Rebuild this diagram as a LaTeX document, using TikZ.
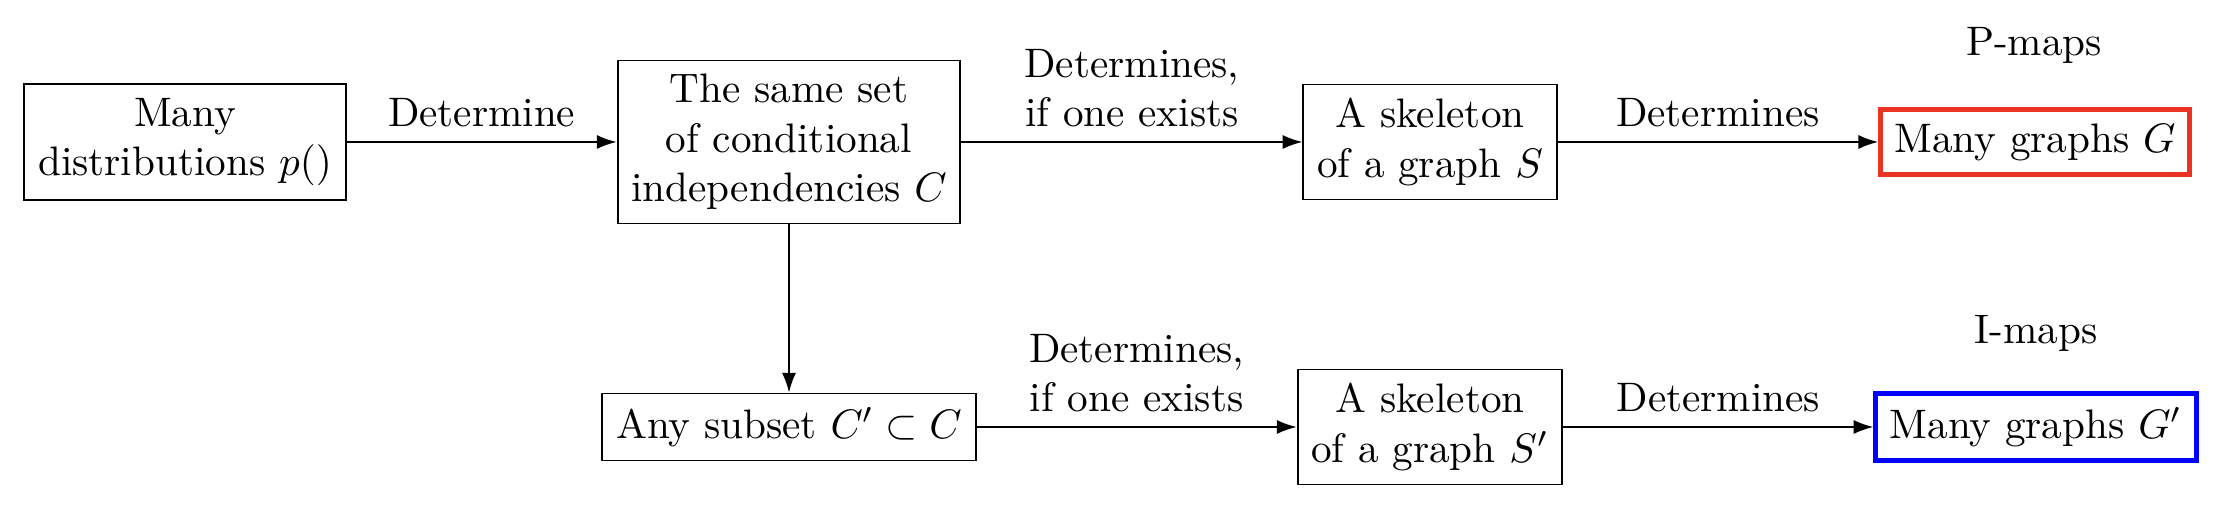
\documentclass[tikz,border=0pt]{standalone}
\usetikzlibrary{arrows.meta}
\definecolor{pred}{RGB}{234,51,35}
\definecolor{iblue}{RGB}{0,0,255}
\begin{document}
\begin{tikzpicture}[x=0.2427pt,y=-0.2427pt,
  box/.style={draw,align=center,line width=0.45pt},
  pbox/.style={draw=pred,line width=1.2pt,align=center},
  ibox/.style={draw=iblue,line width=1.2pt,align=center},
  arr/.style={-{Latex[length=4.8pt,width=3.4pt]},line width=0.45pt},
  lbl/.style={above,align=center}]
\useasboundingbox (0,0) rectangle (2228,530);
\node[box] (dist) at (185,142) {Many\\distributions $p()$};
\node[box] (ci) at (789,142) {The same set\\of conditional\\independencies $C$};
\node[box] (sk) at (1430,142) {A skeleton\\of a graph $S$};
\node[pbox] (g) at (2035,142) {Many graphs $G$};
\node (pm) at (2034,45) {P-maps};
\node[box] (sub) at (789,427) {Any subset $C'\subset C$};
\node[box] (sk2) at (1430,427) {A skeleton\\of a graph $S'$};
\node[ibox] (g2) at (2036,427) {Many graphs $G'$};
\node (im) at (2036,333) {I-maps};
\draw[arr] (dist) -- node[lbl] {Determine} (ci);
\draw[arr] (ci) -- node[lbl] {Determines,\\if one exists} (sk);
\draw[arr] (sk) -- node[lbl] {Determines} (g);
\draw[arr] (ci) -- (sub);
\draw[arr] (sub) -- node[lbl] {Determines,\\if one exists} (sk2);
\draw[arr] (sk2) -- node[lbl] {Determines} (g2);
\end{tikzpicture}
\end{document}
